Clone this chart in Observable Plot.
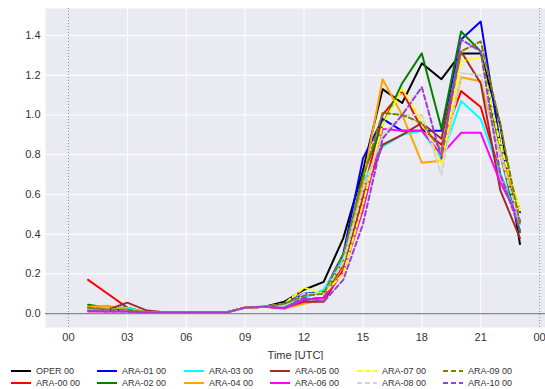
<!DOCTYPE html>
<html><head><meta charset="utf-8">
<script src="https://cdn.jsdelivr.net/npm/d3@7"></script>
<script src="https://cdn.jsdelivr.net/npm/@observablehq/plot@0.6"></script>
<style>
body{margin:0;background:#fff;font-family:"Liberation Sans",Arial,sans-serif;}
#chart svg{display:block;}
#legend{position:relative;width:545px;height:29px;font-size:9px;color:#333;}
.item{position:absolute;display:flex;align-items:center;height:10px;}
.item svg{display:block;margin-right:5px;}
</style></head><body>
<div id="chart"></div><div id="legend"></div>
<script>
const hours = [1,2,3,4,5,6,7,8,9,10,11,12,13,14,15,16,17,18,19,20,21,22,23];
const names = ["OPER 00","ARA-00 00","ARA-01 00","ARA-02 00","ARA-03 00","ARA-04 00","ARA-05 00","ARA-06 00","ARA-07 00","ARA-08 00","ARA-09 00","ARA-10 00"];
const colors = ["#000000","#ff0000","#0000ff","#008000","#00ffff","#ffa500","#a52a2a","#ff00ff","#ffff00","#d3d3d3","#808000","#9a40d0"];
const dashed = [false,false,false,false,false,false,false,false,true,true,true,true];
const oper   = [0.02,0.02,0.02,0.005,0.005,0.005,0.005,0.005,0.03,0.035,0.06,0.12,0.16,0.38,0.72,1.13,1.06,1.26,1.18,1.31,1.31,0.95,0.35];
const ara00  = [0.17,0.10,0.03,0.005,0.005,0.005,0.005,0.005,0.03,0.035,0.03,0.07,0.08,0.24,0.60,1.00,1.12,0.93,0.85,1.12,1.04,0.70,0.46];
const ara01  = [0.02,0.015,0.015,0.005,0.005,0.005,0.005,0.005,0.03,0.035,0.05,0.10,0.11,0.30,0.78,0.98,0.92,0.92,0.92,1.38,1.47,0.85,0.51];
const ara02  = [0.045,0.03,0.03,0.005,0.005,0.005,0.005,0.005,0.03,0.035,0.03,0.07,0.08,0.27,0.70,0.95,1.16,1.31,0.93,1.42,1.32,0.80,0.41];
const ara03  = [0.03,0.03,0.03,0.005,0.005,0.005,0.005,0.005,0.03,0.035,0.04,0.08,0.12,0.28,0.66,0.84,0.90,0.92,0.78,1.07,0.98,0.70,0.45];
const ara04  = [0.035,0.04,0.02,0.005,0.005,0.005,0.005,0.005,0.03,0.035,0.025,0.05,0.07,0.23,0.66,1.18,1.00,0.76,0.77,1.19,1.17,0.80,0.52];
const ara05  = [0.02,0.02,0.055,0.015,0.005,0.005,0.005,0.005,0.03,0.035,0.03,0.06,0.06,0.22,0.58,0.85,0.90,0.96,0.88,1.32,1.16,0.62,0.38];
const ara06  = [0.01,0.01,0.01,0.005,0.005,0.005,0.005,0.005,0.03,0.035,0.025,0.07,0.08,0.21,0.52,0.93,0.92,0.92,0.80,0.91,0.91,0.66,0.47];
const ara07  = [0.02,0.02,0.02,0.005,0.005,0.005,0.005,0.005,0.03,0.035,0.05,0.13,0.10,0.20,0.55,0.95,1.13,0.97,0.75,1.27,1.29,0.85,0.52];
const ara08  = [0.02,0.02,0.02,0.005,0.005,0.005,0.005,0.005,0.03,0.035,0.04,0.10,0.10,0.26,0.62,0.90,1.00,1.00,0.70,1.21,1.20,0.80,0.45];
const ara09  = [0.03,0.02,0.02,0.005,0.005,0.005,0.005,0.005,0.03,0.035,0.05,0.09,0.10,0.30,0.68,1.01,1.00,0.96,0.82,1.32,1.37,0.95,0.45];
const ara10  = [0.015,0.01,0.01,0.005,0.005,0.005,0.005,0.005,0.03,0.035,0.03,0.08,0.06,0.17,0.45,0.88,1.00,1.14,0.78,1.38,1.32,0.70,0.42];
const xTicks = [0,3,6,9,12,15,18,21,24];
const xTickLabels = ["00","03","06","09","12","15","18","21","00"];
const yTicks = [0,0.2,0.4,0.6,0.8,1.0,1.2,1.4];

const allSeries = [oper,ara00,ara01,ara02,ara03,ara04,ara05,ara06,ara07,ara08,ara09,ara10];
const lineMarks = allSeries.map((vals, k) => Plot.line(
  hours.map((h, i) => ({h, v: vals[i]})),
  {x: "h", y: "v", stroke: colors[k], strokeWidth: 2,
   strokeDasharray: dashed[k] ? "5,3" : null, strokeLinejoin: "round"}
));

const chart = Plot.plot({
  width: 545, height: 360,
  marginLeft: 45, marginRight: 0, marginTop: 8, marginBottom: 33,
  style: {background: "transparent", fontFamily: "'Liberation Sans', Arial, sans-serif", fontSize: "11px", color: "#333"},
  x: {domain: [-1.17, 24.3], ticks: xTicks, tickFormat: d => xTickLabels[xTicks.indexOf(d)], tickSize: 0, tickPadding: 6,
      label: "Time [UTC]", labelAnchor: "center", labelOffset: 31, labelArrow: "none"},
  y: {domain: [-0.07, 1.536], ticks: yTicks, tickFormat: d3.format(".1f"), tickSize: 0, tickPadding: 5, label: null},
  marks: [
    Plot.frame({fill: "#eaeaf2", stroke: null}),
    Plot.gridX(xTicks.slice(1, -1), {stroke: "white", strokeOpacity: 1, strokeWidth: 1}),
    Plot.gridY(yTicks, {stroke: "white", strokeOpacity: 1, strokeWidth: 1}),
    Plot.ruleX([0, 24], {stroke: "#777", strokeWidth: 0.8, strokeDasharray: "1,2"}),
    Plot.ruleY([0], {stroke: "#888", strokeWidth: 1.2}),
    ...lineMarks
  ]
});
document.getElementById("chart").appendChild(chart);

const legend = document.getElementById("legend");
const colX = [11, 97, 184, 270, 357, 443];
names.forEach((n, k) => {
  const col = Math.floor(k / 2), row = k % 2;
  const div = document.createElement("div");
  div.className = "item";
  div.style.left = colX[col] + "px";
  div.style.top = (row === 0 ? 6 : 18) + "px";
  div.innerHTML = `<svg width="20" height="10"><line x1="0" x2="20" y1="5" y2="5" stroke="${colors[k]}" stroke-width="2" ${dashed[k] ? 'stroke-dasharray="5,3"' : ''}/></svg><span>${n}</span>`;
  legend.appendChild(div);
});
</script>
</body></html>
